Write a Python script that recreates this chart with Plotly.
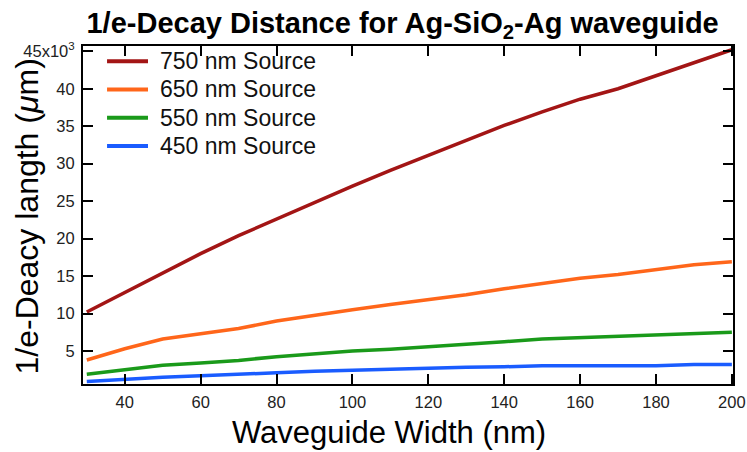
import plotly.graph_objects as go

# Waveguide width (nm)
width_nm = [30, 40, 50, 60, 70, 80, 90, 100, 110, 120, 130, 140, 150, 160, 170, 180, 190, 200]

# 1/e decay length (um) for each source wavelength
decay_750 = [10200, 12800, 15500, 18000, 20400, 22600, 24900, 27000, 29100, 31100, 33200, 35100, 36900, 38600, 40000, 41700, 43400, 45200]
decay_650 = [3800, 5300, 6600, 7300, 8000, 9000, 9800, 10500, 11200, 11800, 12500, 13300, 14000, 14700, 15200, 15900, 16500, 16900]
decay_550 = [1900, 2450, 3100, 3400, 3750, 4250, 4650, 5000, 5250, 5550, 5950, 6250, 6600, 6800, 7000, 7200, 7350, 7500]
decay_450 = [950, 1250, 1500, 1700, 1850, 2100, 2300, 2450, 2550, 2750, 2850, 2900, 3050, 3050, 3050, 3050, 3200, 3200]

series_names = ["750 nm Source", "650 nm Source", "550 nm Source", "450 nm Source"]
series_values = [decay_750, decay_650, decay_550, decay_450]
series_colors = ["#A31515", "#FF661A", "#1A9A1A", "#1A5CFF"]

y_tick_vals = [5000, 10000, 15000, 20000, 25000, 30000, 35000, 40000, 45000]
y_tick_text = ["5", "10", "15", "20", "25", "30", "35", "40", "45x10<sup>3</sup>"]
x_tick_vals = [40, 60, 80, 100, 120, 140, 160, 180, 200]

FONT = "Liberation Sans"

fig = go.Figure()
for name, vals, color in zip(series_names, series_values, series_colors):
    fig.add_trace(go.Scatter(x=width_nm, y=vals, mode="lines", name=name,
                             line=dict(color=color, width=3.5), showlegend=False))

# Hand-placed legend: short colored stroke plus label, one row per source
row0, row_step = 0.955, 0.0835
for i, (name, color) in enumerate(zip(series_names, series_colors)):
    yy = row0 - i * row_step
    fig.add_shape(type="line", xref="paper", yref="paper",
                  x0=0.037, x1=0.1, y0=yy, y1=yy,
                  line=dict(color=color, width=4))
    fig.add_annotation(xref="paper", yref="paper", x=0.116, y=yy,
                       xanchor="left", yanchor="middle", showarrow=False,
                       text=name, font=dict(family=FONT, size=23, color="#111"))

# Axis titles
fig.add_annotation(xref="paper", yref="paper", x=(389 - 83) / 650, y=(384 - 432) / 338,
                   xanchor="center", yanchor="middle", showarrow=False,
                   text="Waveguide Width (nm)", font=dict(family=FONT, size=31, color="black"))
fig.add_annotation(xref="paper", yref="paper", x=(26 - 83) / 650, y=(384 - 216.5) / 338,
                   xanchor="center", yanchor="middle", showarrow=False, textangle=-90,
                   text="1/e-Deacy langth (<i>μ</i>m)", font=dict(family=FONT, size=32, color="black"))

axis_common = dict(showline=True, linecolor="black", linewidth=2, mirror="ticks",
                   ticks="inside", ticklen=10, tickwidth=2, tickcolor="black",
                   showgrid=False, zeroline=False, automargin=False,
                   tickfont=dict(family=FONT, size=16.5, color="#222"))

fig.update_xaxes(range=[29, 200.3], tickvals=x_tick_vals, ticklabelstandoff=2, **axis_common)
fig.update_yaxes(range=[600, 45700], tickvals=y_tick_vals, ticktext=y_tick_text,
                 ticklabelstandoff=3, **axis_common)

fig.update_layout(
    width=747, height=452,
    margin=dict(l=83, r=14, t=46, b=68),
    paper_bgcolor="white", plot_bgcolor="white",
    title=dict(text="<b>1/e-Decay Distance for Ag-SiO<sub>2</sub>-Ag waveguide</b>",
               x=0.539, xanchor="center", y=0.949, yanchor="middle",
               font=dict(family=FONT, size=29, color="black")),
)

fig.write_html("out.html")
